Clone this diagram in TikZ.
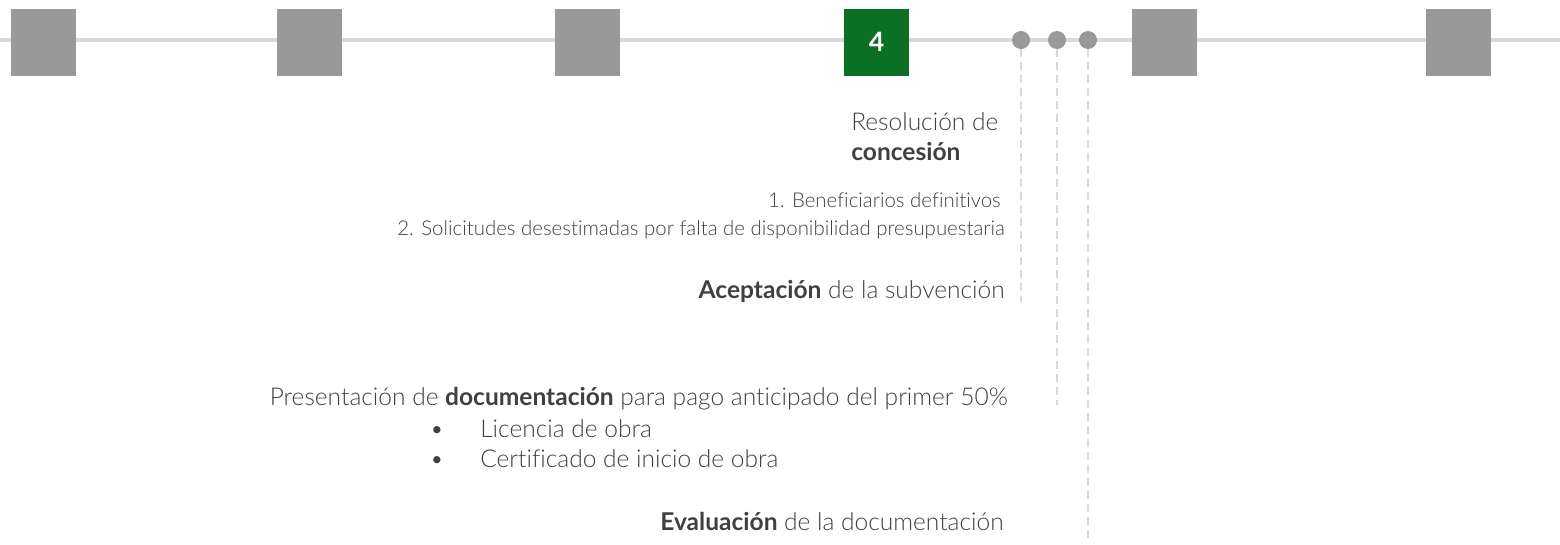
\documentclass[tikz,border=0pt]{standalone}
\usepackage{fontspec}
\setmainfont{Lato Light}[BoldFont=Lato Bold,Ligatures=NoCommon]
\usetikzlibrary{positioning}
\definecolor{sqgray}{HTML}{999999}
\definecolor{lngray}{HTML}{D9D9D9}
\definecolor{dkgreen}{HTML}{0B7024}
\definecolor{txt}{HTML}{404040}
\tikzset{
  sq/.style={draw=none,fill=sqgray,minimum width=48.75pt,minimum height=50.25pt,inner sep=0pt},
  gsq/.style={sq,fill=dkgreen,text=white,font=\bfseries\fontsize{20}{24}\selectfont},
  dotn/.style={circle,fill=sqgray,minimum size=13.5pt,inner sep=0pt},
  tl/.style={line width=3pt,lngray},
  dl/.style={line width=1.5pt,lngray,dash pattern=on 6pt off 3.75pt},
  big/.style={inner sep=0pt,text=txt,font=\fontsize{18.4}{21}\selectfont},
  small/.style={inner sep=0pt,text=txt,font=\fontsize{15.3}{18}\selectfont},
}
\begin{document}
\begin{tikzpicture}[x=0.75pt,y=-0.75pt]
\useasboundingbox (0,0) rectangle (1560,544);
\coordinate (L) at (0,40);
\coordinate (R) at (1560,40);
\draw[tl] (L) -- (R);
\node[sq] (s1) at (43.5,42) {};
\node[sq] (s2) at (309.5,42) {};
\node[sq] (s3) at (587.5,42) {};
\node[gsq] (s4) at (876.5,42) {4};
\node[sq] (s5) at (1164,42) {};
\node[sq] (s6) at (1458.5,42) {};
\node[dotn] (d1) at (1021,40) {};
\node[dotn] (d2) at (1057,40) {};
\node[dotn] (d3) at (1088,40) {};
\coordinate (e1) at (1021,302);
\coordinate (e2) at (1057,405);
\coordinate (e3) at (1088,540);
\draw[dl] (d1.south) -- (e1);
\draw[dl] (d2.south) -- (e2);
\draw[dl] (d3.south) -- (e3);
\node[big,anchor=base west] (res) at (851,130) {Resolución de};
\node[big,anchor=base west] (con) at (851,160) {\textbf{concesión}};
\node[small,anchor=base east] (b1) at (1001,207) {1. Beneficiarios definitivos};
\node[small,anchor=base east] (b2) at (1005,235) {2. Solicitudes desestimadas por falta de disponibilidad presupuestaria};
\node[big,anchor=base east] (ace) at (1005,298) {\textbf{Aceptación} de la subvención};
\node[big,anchor=base east] (pre) at (1008,405) {Presentación de \textbf{documentación} para pago anticipado del primer 50\%};
\node[big,anchor=base] (u1) at (437,437) {•};
\node[big,anchor=base west] (l1) at (480,437) {Licencia de obra};
\node[big,anchor=base] (u2) at (437,467) {•};
\node[big,anchor=base west] (l2) at (480,467) {Certificado de inicio de obra};
\node[big,anchor=base east] (eva) at (1004,530) {\textbf{Evaluación} de la documentación};
\end{tikzpicture}
\end{document}
